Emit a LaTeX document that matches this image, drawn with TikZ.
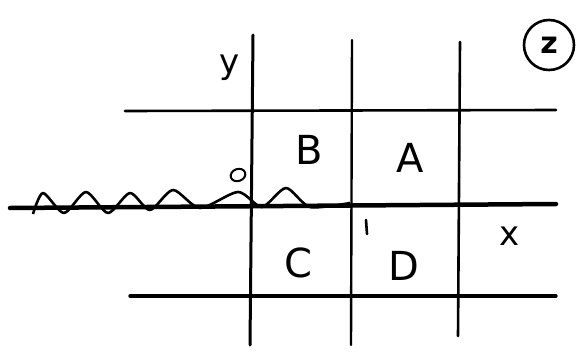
\documentclass[tikz,border=0pt]{standalone}
\usepackage{fontspec}
\setmainfont{DejaVu Sans}
\usetikzlibrary{shapes.geometric}
\begin{document}
\begin{tikzpicture}[x=1pt,y=-1pt,
  gridline/.style={line width=3pt,line cap=round},
  axisline/.style={line width=4.5pt,line cap=round},
  lbl/.style={font=\fontsize{40}{44}\selectfont},
  smalllbl/.style={font=\fontsize{34}{38}\selectfont}]
\useasboundingbox[fill=white] (0,0) rectangle (580,361);
% vertical lines
\coordinate (v1t) at (253,35);  \coordinate (v1b) at (250,345);
\coordinate (v2t) at (352,40);  \coordinate (v2b) at (351,345);
\coordinate (v3t) at (460,42);  \coordinate (v3b) at (458,336);
\draw[gridline] (v1t) -- (v1b);
\draw[gridline,line width=2.4pt] (v2t) -- (v2b);
\draw[gridline,line width=2.6pt] (v3t) -- (v3b);
% horizontal lines
\coordinate (h1l) at (125,111); \coordinate (h1r) at (556,110);
\coordinate (h2l) at (10,208);  \coordinate (h2r) at (556,204);
\coordinate (h3l) at (130,296); \coordinate (h3r) at (556,296);
\draw[gridline,line width=2.6pt] (h1l) -- (h1r);
\draw[axisline] (h2l) -- (h2r);
\draw[gridline,line width=3.4pt] (h3l) -- (h3r);
% wavy line
\draw[line width=2.6pt,line join=round] plot[smooth,tension=0.45] coordinates {
 (33,214) (43,193) (64,213) (86,192) (108,213) (130,193) (150,210) (173,190)
 (200,208) (238,192) (262,207) (286,188) (310,207) (350,203)};
% small circle
\node[draw,line width=2pt,ellipse,minimum width=15pt,minimum height=12pt,inner sep=0pt,rotate=20] (o) at (238,175) {};
% labels
\node[smalllbl] (y) at (230,68) {y};
\node[lbl] (B) at (309,150) {B};
\node[lbl] (A) at (410,158) {A};
\node[lbl] (C) at (298,263) {C};
\node[lbl] (D) at (404,266) {D};
\node[smalllbl] (x) at (510,236) {x};
\node[draw,circle,line width=2.6pt,minimum size=50pt,inner sep=0pt,font=\fontsize{30}{34}\selectfont\bfseries] (z) at (549,45) {z};
% tick near D
\coordinate (t1) at (366,220); \coordinate (t2) at (367,234);
\draw[line width=2.6pt,line cap=round] (t1) -- (t2);
\end{tikzpicture}
\end{document}
